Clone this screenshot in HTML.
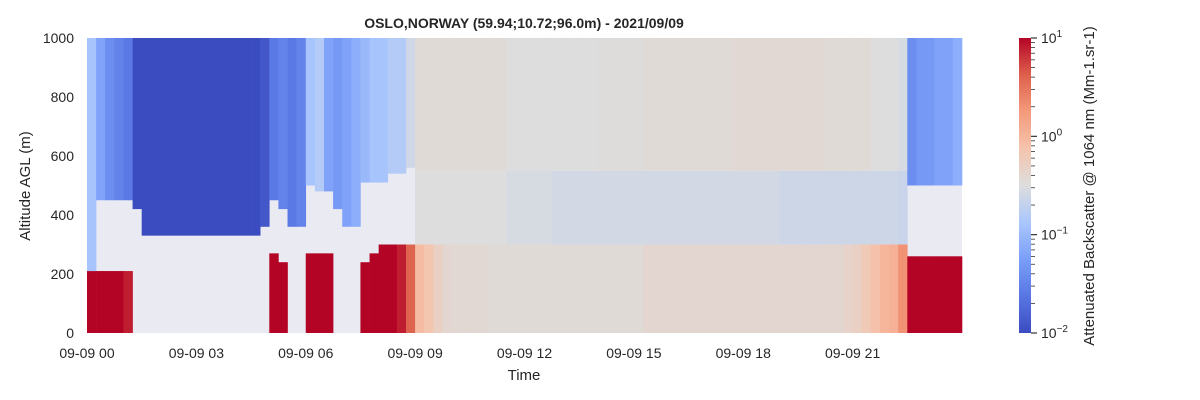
<!DOCTYPE html>
<html><head><meta charset="utf-8"><style>
body{margin:0;background:#fff;}
svg{display:block;font-family:"Liberation Sans",Arial,sans-serif;}
</style></head><body>
<svg id="chart" width="1200" height="400" viewBox="0 0 1200 400">
<text x="524" y="28" text-anchor="middle" font-size="14" font-weight="bold" fill="#262626">OSLO,NORWAY (59.94;10.72;96.0m) - 2021/09/09</text>
<g id="cells"></g>
<g id="xaxis"></g>
<g id="yaxis"></g>
<text x="524" y="380" text-anchor="middle" font-size="15" fill="#262626">Time</text>
<text transform="translate(30,186) rotate(-90)" text-anchor="middle" font-size="15" fill="#262626">Altitude AGL (m)</text>
<defs><linearGradient id="cm" x1="0" y1="1" x2="0" y2="0"></linearGradient></defs>
<rect x="1019" y="38" width="12" height="295" fill="url(#cm)"/>
<g id="cbticks"></g>
<text transform="translate(1094,186) rotate(-90)" text-anchor="middle" font-size="15" fill="#262626">Attenuated Backscatter @ 1064 nm (Mm-1.sr-1)</text>
</svg>
<script>
const lowTop=[210,210,210,210,210,0,0,0,0,0,0,0,0,0,0,0,0,0,0,0,270,240,0,0,270,270,270,0,0,0,240,270,300,300,300,300,
300,300,300,300,300,300,300,300,300,300,300,300,300,300,300,300,300,300,300,300,300,300,300,300,300,300,300,300,300,300,300,300,300,300,300,300,300,300,300,300,300,300,300,300,300,300,300,300,300,300,300,300,300,300,
260,260,260,260,260,260];
const lowVal=[1,1,1,1,0.9,0,0,0,0,0,0,0,0,0,0,0,0,0,0,0,1,1,0,0,1,1,1,0,0,0,1,1,1,1,0.9,0.6,
-0.05,-0.15,-0.3,-0.4,-0.42,-0.42,-0.42,-0.42,-0.45,-0.45,-0.45,-0.45,-0.45,-0.45,-0.45,-0.45,-0.45,-0.45,-0.45,-0.45,-0.45,-0.45,-0.45,-0.45,-0.45,-0.4,-0.4,-0.4,-0.4,-0.4,-0.4,-0.4,-0.4,-0.4,-0.4,-0.4,-0.4,-0.4,-0.4,-0.4,-0.4,-0.4,-0.4,-0.4,-0.4,-0.4,-0.4,-0.35,-0.3,-0.2,-0.1,0.0,0.05,0.3,
1,1,1,1,1,1];
const gapTop=[210,450,450,450,450,420,330,330,330,330,330,330,330,330,330,330,330,330,330,360,450,420,360,360,500,480,480,420,360,360,510,510,510,540,540,560,
300,300,300,300,300,300,300,300,300,300,300,300,300,300,300,300,300,300,300,300,300,300,300,300,300,300,300,300,300,300,300,300,300,300,300,300,300,300,300,300,300,300,300,300,300,300,300,300,300,300,300,300,300,300,
500,500,500,500,500,500];
const midTop=[210,450,450,450,450,420,330,330,330,330,330,330,330,330,330,330,330,330,330,360,450,420,360,360,500,480,480,420,360,360,510,510,510,540,540,560,
550,550,550,550,550,550,550,550,550,550,550,550,550,550,550,550,550,550,550,550,550,550,550,550,550,550,550,550,550,550,550,550,550,550,550,550,550,550,550,550,550,550,550,550,550,550,550,550,550,550,550,550,550,550,
500,500,500,500,500,500];
const midVal=[0,0,0,0,0,0,0,0,0,0,0,0,0,0,0,0,0,0,0,0,0,0,0,0,0,0,0,0,0,0,0,0,0,0,0,0,
-0.5,-0.5,-0.5,-0.5,-0.5,-0.5,-0.5,-0.5,-0.5,-0.5,-0.55,-0.55,-0.55,-0.55,-0.55,-0.58,-0.58,-0.58,-0.58,-0.58,-0.58,-0.58,-0.58,-0.58,-0.58,-0.58,-0.58,-0.58,-0.58,-0.58,-0.58,-0.58,-0.58,-0.58,-0.58,-0.58,-0.58,-0.58,-0.58,-0.58,-0.62,-0.62,-0.62,-0.62,-0.62,-0.62,-0.62,-0.62,-0.62,-0.62,-0.62,-0.62,-0.62,-0.65,
0,0,0,0,0,0];
const highVal=[-0.9,-1.2,-1.4,-1.5,-1.6,-2,-2,-2,-2,-2,-2,-2,-2,-2,-2,-2,-2,-2,-2,-1.9,-1.6,-1.5,-1.6,-1.5,-0.9,-0.8,-1.2,-1.3,-1.2,-1.1,-1.0,-0.9,-0.9,-0.8,-0.8,-0.6,
-0.45,-0.45,-0.45,-0.45,-0.45,-0.45,-0.45,-0.45,-0.45,-0.45,-0.5,-0.5,-0.5,-0.5,-0.5,-0.5,-0.5,-0.5,-0.5,-0.5,-0.48,-0.48,-0.48,-0.48,-0.48,-0.45,-0.45,-0.45,-0.45,-0.45,-0.45,-0.45,-0.45,-0.45,-0.45,-0.42,-0.42,-0.42,-0.42,-0.42,-0.42,-0.42,-0.42,-0.42,-0.42,-0.45,-0.45,-0.45,-0.45,-0.45,-0.5,-0.5,-0.5,-0.55,
-1.4,-1.3,-1.3,-1.2,-1.2,-1.1];
const xTickLabels=["09-09 00","09-09 03","09-09 06","09-09 09","09-09 12","09-09 15","09-09 18","09-09 21"];
const xTickHours=[0,3,6,9,12,15,18,21];
const yTicks=[0,200,400,600,800,1000];
const cbExp=[1,0,-1,-2];

const NS="http://www.w3.org/2000/svg";
const X0=87,X1=962,Y0=333,Y1=38;
const xs=h=>X0+(X1-X0)*h/24;
const ys=a=>Y0-(Y0-Y1)*a/1000;
const cbY=v=>38+(1-v)/3*295;
const stops=[[0,59,76,192],[0.125,88,118,227],[0.25,122,158,248],[0.375,170,199,253],[0.5,221,221,221],[0.625,245,196,173],[0.75,244,154,123],[0.875,222,96,77],[1,180,4,38]];
function cmap(v){let t=Math.max(0,Math.min(1,(v+2)/3));for(let i=1;i<stops.length;i++){if(t<=stops[i][0]){const a=stops[i-1],b=stops[i],f=(t-a[0])/(b[0]-a[0]);return `rgb(${Math.round(a[1]+f*(b[1]-a[1]))},${Math.round(a[2]+f*(b[2]-a[2]))},${Math.round(a[3]+f*(b[3]-a[3]))})`;}}return 'rgb(180,4,38)';}
function mk(tag,attrs,parent){const e=document.createElementNS(NS,tag);for(const k in attrs)e.setAttribute(k,attrs[k]);parent.appendChild(e);return e;}
const cells=document.getElementById('cells');
const bg=mk('rect',{x:X0,y:Y1,width:X1-X0,height:Y0-Y1,fill:'#eaeaf2'},cells);


const n=lowTop.length, dh=24/n;
for(let i=0;i<n;i++){
  const segs=[[0,lowTop[i],lowVal[i]],[gapTop[i],midTop[i],midVal[i]],[midTop[i],1000,highVal[i]]];
  for(const s of segs){ if(s[1]<=s[0])continue;
    const r=mk('rect',{x:xs(i*dh),y:ys(s[1]),width:xs((i+1)*dh)-xs(i*dh)+0.3,height:ys(s[0])-ys(s[1]),fill:cmap(s[2])},cells);
    
    
  }
}
const xa=document.getElementById('xaxis');
xTickHours.forEach((h,k)=>{const t=mk('text',{x:xs(h),y:358,'text-anchor':'middle','font-size':'14',fill:'#262626'},xa);t.textContent=xTickLabels[k];

});
const ya=document.getElementById('yaxis');
yTicks.forEach(v=>{const t=mk('text',{x:74,y:ys(v)+5,'text-anchor':'end','font-size':'14',fill:'#262626'},ya);t.textContent=v;

});
const g=document.getElementById('cm');
for(let k=0;k<=24;k++){const v=-2+3*k/24;mk('stop',{offset:(k/24),'stop-color':cmap(v)},g);}
const cb=document.getElementById('cbticks');
cbExp.forEach(e=>{const y=cbY(e);mk('line',{x1:1031,x2:1037,y1:y,y2:y,stroke:'#333','stroke-width':1.2},cb);
const t=mk('text',{x:1041,y:y+5,'font-size':'14',fill:'#262626'},cb);t.textContent='10';
const s=mk('tspan',{dy:-6,'font-size':'10'},t);s.textContent=String(e).replace('-','\u2212');


if(e>-2){for(let m=2;m<=9;m++){const yy=cbY(e-1+Math.log10(m));mk('line',{x1:1031,x2:1035,y1:yy,y2:yy,stroke:'#333','stroke-width':0.8},cb);}}});
</script>
</body></html>
